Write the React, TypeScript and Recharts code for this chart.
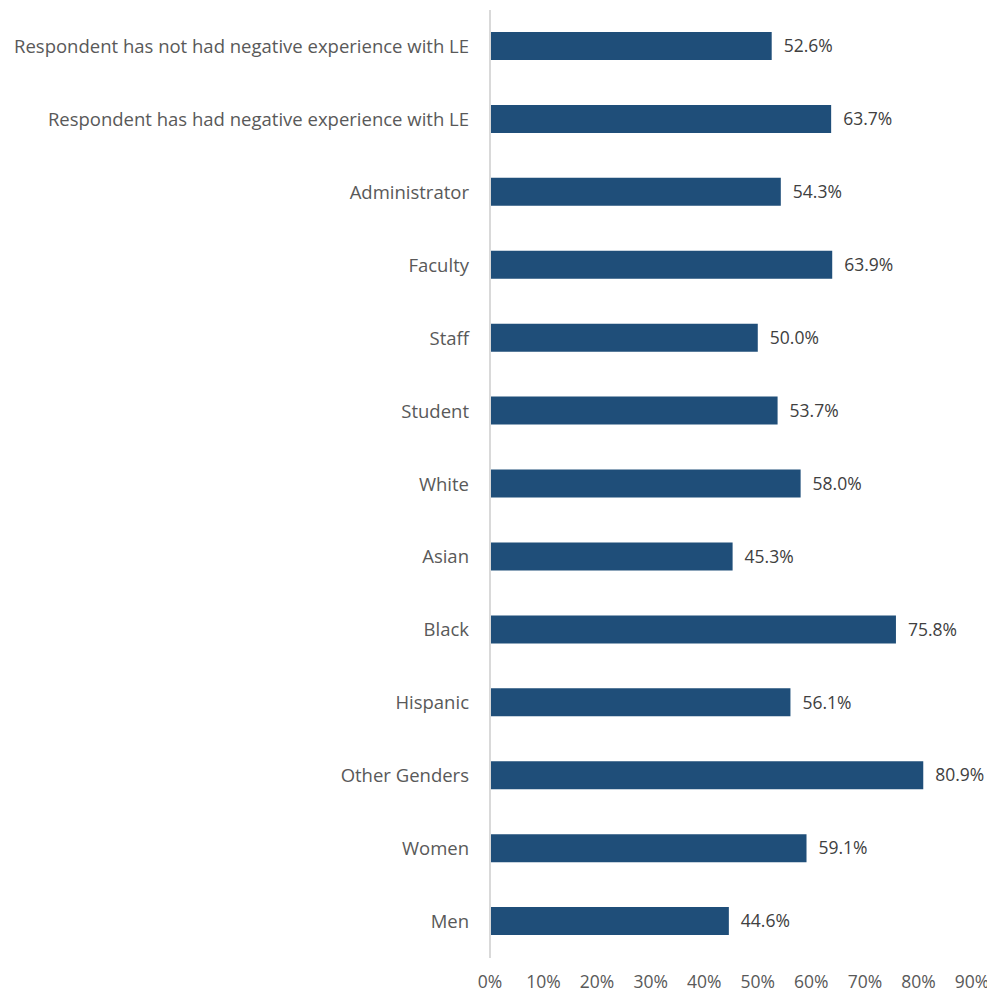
import React from "react";
import { BarChart, Bar, XAxis, YAxis, LabelList } from "recharts";

const categories = [
  "Respondent has not had negative experience with LE",
  "Respondent has had negative experience with LE",
  "Administrator",
  "Faculty",
  "Staff",
  "Student",
  "White",
  "Asian",
  "Black",
  "Hispanic",
  "Other Genders",
  "Women",
  "Men",
];

const values = [52.6, 63.7, 54.3, 63.9, 50.0, 53.7, 58.0, 45.3, 75.8, 56.1, 80.9, 59.1, 44.6];

const xTicks = [0, 10, 20, 30, 40, 50, 60, 70, 80, 90];

const FONT = "'Open Sans', sans-serif";

export default function App() {
  const data = categories.map((name, i) => ({ name, value: values[i] }));

  return (
    <div style={{ fontFamily: FONT }}>
      <BarChart
        width={987}
        height={986}
        data={data}
        layout="vertical"
        margin={{ top: 2, right: 23, bottom: 0, left: 0 }}
      >
        <XAxis
          type="number"
          domain={[0, 90]}
          ticks={xTicks}
          tickFormatter={(v) => `${v}%`}
          axisLine={false}
          tickLine={false}
          tickMargin={12}
          height={36}
          tick={{ fill: "#595959", fontSize: 17.5, fontFamily: FONT }}
        />
        <YAxis
          type="category"
          dataKey="name"
          width={482}
          axisLine={{ stroke: "#D9D9D9", strokeWidth: 2 }}
          tickLine={false}
          tickMargin={15}
          interval={0}
          tick={{ fill: "#595959", fontSize: 18.5, fontFamily: FONT }}
        />
        <Bar dataKey="value" fill="#1F4E79" barSize={28} isAnimationActive={false}>
          <LabelList
            dataKey="value"
            position="right"
            offset={12}
            formatter={(v: number) => `${v.toFixed(1)}%`}
            style={{ fill: "#404040", fontSize: 17.5, fontFamily: FONT }}
          />
        </Bar>
      </BarChart>
    </div>
  );
}
